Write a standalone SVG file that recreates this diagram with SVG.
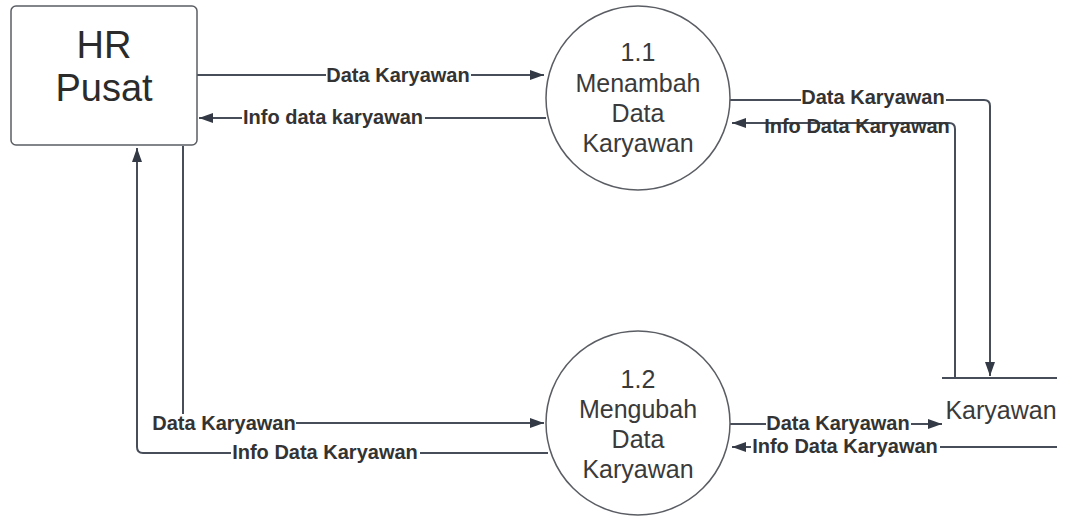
<svg xmlns="http://www.w3.org/2000/svg" width="1066" height="517" viewBox="0 0 1066 517">
<style>
.node{fill:#fff;stroke:#5a5d63;stroke-width:1.5}
.big{font-family:"Liberation Sans",Arial,sans-serif;fill:#2b2b2b;text-anchor:middle}
.proc{font-family:"Liberation Sans",Arial,sans-serif;fill:#3a3a3a;font-size:25px;text-anchor:middle}
.ln{fill:none;stroke:#474d59;stroke-width:2}
.bg{fill:#fff}
.lbl{font-family:"Liberation Sans",Arial,sans-serif;font-weight:bold;font-size:20px;fill:#333;text-anchor:middle;dominant-baseline:central}
</style>
<defs>
<marker id="ah" viewBox="0 0 14 10" refX="14" refY="5" markerWidth="14" markerHeight="10" markerUnits="userSpaceOnUse" orient="auto"><path d="M0,0 L14,5 L0,10 Z" fill="#333a45"/></marker>
</defs>
<rect width="1066" height="517" fill="#fff"/>
<g id="connectors">
<path class="ln" d="M197,75 H544" marker-end="url(#ah)"/>
<path class="ln" d="M546,118 H199" marker-end="url(#ah)"/>
<path class="ln" d="M730,100 H984 Q990,100 990,106 V376" marker-end="url(#ah)"/>
<path class="ln" d="M955,378 V129 Q955,123 949,123 H732" marker-end="url(#ah)"/>
<path class="ln" d="M183,146 V423 H544" marker-end="url(#ah)"/>
<path class="ln" d="M548,453 H143 Q137,453 137,447 V148" marker-end="url(#ah)"/>
<path class="ln" d="M730,424 H942" marker-end="url(#ah)"/>
<path class="ln" d="M1057,447 H732" marker-end="url(#ah)"/>
<rect class="bg" x="326" y="66" width="145" height="18"/>
<text class="lbl" x="398" y="75">Data Karyawan</text>
<rect class="bg" x="242" y="108" width="183" height="18"/>
<text class="lbl" x="333" y="117">Info data karyawan</text>
<rect class="bg" x="801" y="88" width="145" height="18"/>
<text class="lbl" x="873" y="97">Data Karyawan</text>
<text class="lbl" x="857" y="126">Info Data Karyawan</text>
<rect class="bg" x="151" y="414" width="145" height="18"/>
<text class="lbl" x="224" y="423">Data Karyawan</text>
<rect class="bg" x="231" y="443" width="189" height="18"/>
<text class="lbl" x="325" y="452">Info Data Karyawan</text>
<rect class="bg" x="766" y="414" width="145" height="18"/>
<text class="lbl" x="838" y="423">Data Karyawan</text>
<rect class="bg" x="751" y="437" width="189" height="18"/>
<text class="lbl" x="845" y="446">Info Data Karyawan</text>
</g>
<g id="hr-pusat">
<rect class="node" x="11" y="6" width="186" height="139" rx="5"/>
<text class="big" font-size="38" x="104" y="58">HR</text>
<text class="big" font-size="38" x="104" y="101">Pusat</text>
</g>
<g id="p11">
<circle class="node" cx="638" cy="98" r="92"/>
<text class="proc" x="638" y="61">1.1</text>
<text class="proc" x="638" y="92">Menambah</text>
<text class="proc" x="638" y="122">Data</text>
<text class="proc" x="638" y="152">Karyawan</text>
</g>
<g id="p12">
<circle class="node" cx="638" cy="423" r="92"/>
<text class="proc" x="638" y="388">1.2</text>
<text class="proc" x="638" y="418">Mengubah</text>
<text class="proc" x="638" y="448">Data</text>
<text class="proc" x="638" y="478">Karyawan</text>
</g>
<g id="store-karyawan">
<path class="ln" d="M942,378 H1057 M942,447 H1057" stroke="#5a5d63"/>
<text class="proc" x="1001" y="419">Karyawan</text>
</g>
</svg>
